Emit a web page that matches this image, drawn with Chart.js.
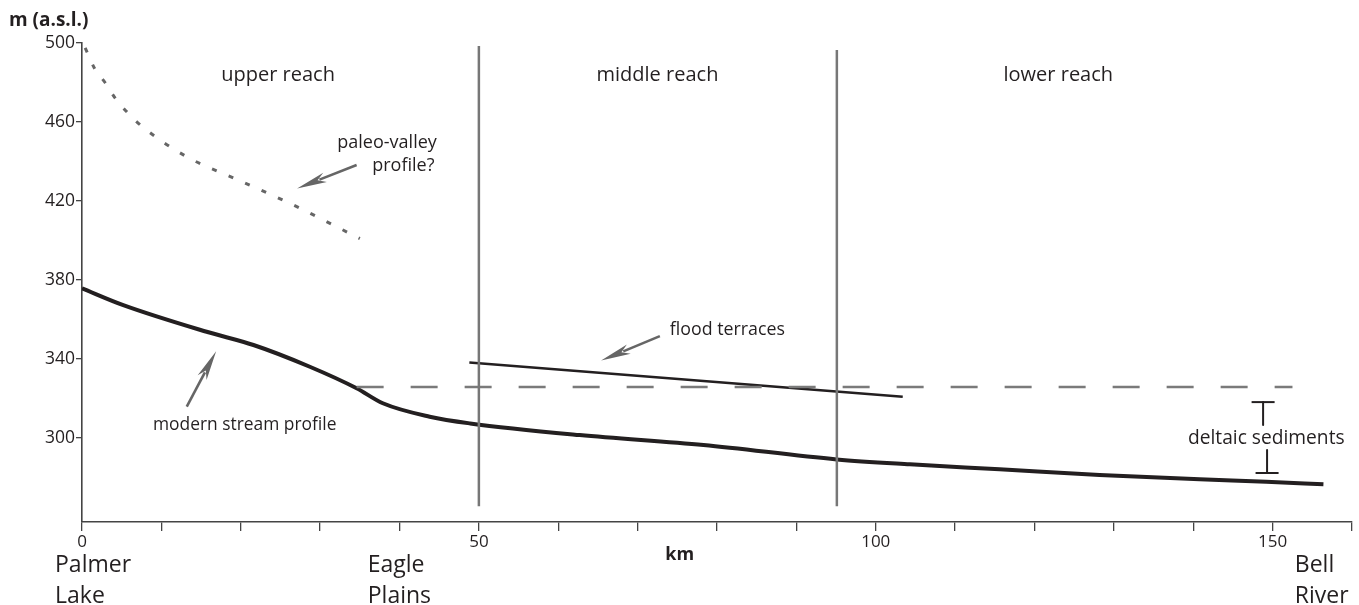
<!DOCTYPE html>
<html><head><meta charset="utf-8">
<script src="https://cdn.jsdelivr.net/npm/chart.js@4.4.1/dist/chart.umd.min.js"></script>
<style>html,body{margin:0;padding:0;background:#fff;overflow:hidden}</style>
</head><body>
<canvas id="c" width="1359" height="605" style="width:1359px;height:605px;display:block"></canvas>
<script>
// ---- data (km, m a.s.l.) ----
const profileKm   = [0, 5.2, 15.7, 21.6, 28.7, 34.6, 37.9, 43.8, 48.9, 62.7, 78.3, 95.1, 104.3, 115.6, 128.2, 140.8, 149.2, 156.4];
const profileElev = [375.8, 367.3, 353.8, 347.1, 336.1, 325.2, 317.6, 310.8, 307.4, 301.5, 296.5, 289.2, 286.7, 284.2, 281.3, 279.1, 277.9, 276.6];
const paleoKm   = [0.4, 1.6, 2.9, 4.2, 5.8, 7.5, 13.2, 19.7, 26.2, 35];
const paleoElev = [497.5, 487, 480, 472, 464.5, 458, 442.4, 430.6, 418.8, 401];
const terraceKm   = [48.8, 103.4];
const terraceElev = [338.3, 320.9];
const deltaTopKm  = [34.6, 152.5];
const deltaTopElev = [325.8, 325.8];
const reachBoundKm = [50, 95.1];
const reachBoundTop = [498.5, 496.5];
const reachBoundBottom = [265.5, 265.5];
const xTicks = [0,10,20,30,40,50,60,70,80,90,100,110,120,130,140,150,160];
const xTickLabels = ['0','','','','','50','','','','','100','','','','','150',''];
const yTicks = [300, 340, 380, 420, 460, 500];
const yTickLabels = ['300','340','380','420','460','500'];
const reachNames = ['upper reach', 'middle reach', 'lower reach'];
const reachLabelKm = [24.7, 72.5, 123.0];
const reachLabelElev = 483.5;
const placeNames = [['Palmer','Lake'], ['Eagle','Plains'], ['Bell','River']];
const placeLeftKm = [-3.4, 36.0, 152.8];
// annotations: [tailKm, tailElev, headKm, headElev]
const arrows = [[13.2, 315.9, 16.9, 344.0], [72.8, 351.6, 65.4, 339.2], [34.6, 438.2, 27.1, 426.4]];
const bracketKm = [148.8, 149.3];
const bracketTop = [318.2, 306.6];
const bracketBottom = [293.9, 282.3];

const pts = (xs, ys) => xs.map((x, i) => ({x, y: ys[i]}));
const TXT = '#231f20';
const FONT = '"Open Sans", "Noto Sans", sans-serif';

const datasets = [];
reachBoundKm.forEach((k, i) => datasets.push({
  data: [{x: k, y: reachBoundBottom[i]}, {x: k, y: reachBoundTop[i]}],
  borderColor: '#777', borderWidth: 2.5, pointRadius: 0
}));
datasets.push({ data: pts(deltaTopKm, deltaTopElev), borderColor: '#7a7a7a', borderWidth: 2.5, borderDash: [27, 27], pointRadius: 0, borderCapStyle: 'butt' });
datasets.push({ data: pts(paleoKm, paleoElev), borderColor: '#666', borderWidth: 3, borderDash: [5, 13], pointRadius: 0, tension: 0.4, cubicInterpolationMode: 'monotone' });
datasets.push({ data: pts(terraceKm, terraceElev), borderColor: TXT, borderWidth: 2.5, pointRadius: 0 });
datasets.push({ data: pts(profileKm, profileElev), borderColor: TXT, borderWidth: 4, pointRadius: 0, cubicInterpolationMode: 'monotone' });
// bracket stems + caps
const capHalf = 1.45;
datasets.push({ data: [{x: bracketKm[0]-capHalf, y: bracketTop[0]}, {x: bracketKm[0]+capHalf, y: bracketTop[0]}], borderColor: TXT, borderWidth: 2, pointRadius: 0 });
datasets.push({ data: [{x: bracketKm[0], y: bracketTop[0]}, {x: bracketKm[0], y: bracketTop[1]}], borderColor: TXT, borderWidth: 2, pointRadius: 0 });
datasets.push({ data: [{x: bracketKm[1]-capHalf, y: bracketBottom[1]}, {x: bracketKm[1]+capHalf, y: bracketBottom[1]}], borderColor: TXT, borderWidth: 2, pointRadius: 0 });
datasets.push({ data: [{x: bracketKm[1], y: bracketBottom[0]}, {x: bracketKm[1], y: bracketBottom[1]}], borderColor: TXT, borderWidth: 2, pointRadius: 0 });

const annot = {
  id: 'annot',
  afterDatasetsDraw(chart) {
    const {ctx, scales: {x, y}, chartArea} = chart;
    ctx.save();
    // arrows
    arrows.forEach(a => {
      const x1 = x.getPixelForValue(a[0]), y1 = y.getPixelForValue(a[1]);
      const x2 = x.getPixelForValue(a[2]), y2 = y.getPixelForValue(a[3]);
      const ang = Math.atan2(y2 - y1, x2 - x1);
      const L = 30, W = 5;
      const bx = x2 - Math.cos(ang) * L, by = y2 - Math.sin(ang) * L;
      ctx.strokeStyle = '#666'; ctx.fillStyle = '#666'; ctx.lineWidth = 2.6;
      ctx.beginPath(); ctx.moveTo(x1, y1); ctx.lineTo(bx + Math.cos(ang)*6, by + Math.sin(ang)*6); ctx.stroke();
      ctx.beginPath();
      ctx.moveTo(x2, y2);
      ctx.lineTo(bx + Math.sin(ang) * W, by - Math.cos(ang) * W);
      ctx.lineTo(bx + Math.cos(ang) * 8, by + Math.sin(ang) * 8);
      ctx.lineTo(bx - Math.sin(ang) * W, by + Math.cos(ang) * W);
      ctx.closePath(); ctx.fill();
    });
    ctx.fillStyle = TXT;
    ctx.textBaseline = 'middle';
    // reach names
    ctx.font = '20px ' + FONT; ctx.textAlign = 'center';
    reachNames.forEach((n, i) => ctx.fillText(n, x.getPixelForValue(reachLabelKm[i]), y.getPixelForValue(reachLabelElev)));
    // annotation texts
    ctx.font = '18px ' + FONT;
    ctx.textAlign = 'right';
    ctx.fillText('paleo-valley', x.getPixelForValue(44.7), y.getPixelForValue(449.2));
    ctx.fillText('profile?', x.getPixelForValue(44.4), y.getPixelForValue(438.0));
    ctx.textAlign = 'center';
    ctx.font = '17.8px ' + FONT;
    ctx.fillText('flood terraces', x.getPixelForValue(81.3), y.getPixelForValue(354.7));
    ctx.font = '17.4px ' + FONT;
    ctx.fillText('modern stream profile', x.getPixelForValue(20.5), y.getPixelForValue(306.4));
    ctx.font = '19.2px ' + FONT;
    ctx.fillText('deltaic sediments', x.getPixelForValue(149.2), y.getPixelForValue(300.0));
    // axis titles
    ctx.font = 'bold 19px ' + FONT; ctx.textAlign = 'left';
    ctx.fillText('m (a.s.l.)', chartArea.left - 73, chartArea.top - 22);
    ctx.textAlign = 'center';
    ctx.font = 'bold 18px ' + FONT;
    ctx.fillText('km', x.getPixelForValue(75.3), chartArea.bottom + 33);
    // place names
    ctx.font = '23px ' + FONT; ctx.textAlign = 'left'; ctx.textBaseline = 'alphabetic';
    placeNames.forEach((p, i) => {
      const px = x.getPixelForValue(placeLeftKm[i]);
      ctx.fillText(p[0], px, chartArea.bottom + 50);
      ctx.fillText(p[1], px, chartArea.bottom + 81);
    });
    ctx.restore();
  }
};

new Chart(document.getElementById('c'), {
  type: 'line',
  data: { datasets },
  plugins: [annot],
  options: {
    responsive: false, animation: false, devicePixelRatio: 1,
    layout: { padding: { top: 43, right: 7, left: 0, bottom: 0 } },
    plugins: { legend: { display: false }, tooltip: { enabled: false } },
    elements: { line: { borderCapStyle: 'butt', borderJoinStyle: 'round' } },
    scales: {
      x: {
        type: 'linear', min: 0, max: 160,
        afterFit(s) { s.height = 83; },
        afterBuildTicks(s) { s.ticks = xTicks.map(v => ({value: v})); },
        ticks: { autoSkip: false, maxRotation: 0, padding: 1, color: TXT, font: { family: FONT, size: 17 },
          callback: (v) => xTickLabels[xTicks.indexOf(v)] ?? '' },
        grid: { drawOnChartArea: false, drawTicks: true, tickLength: 9, color: '#444', lineWidth: 1.3 },
        border: { display: true, color: '#444', width: 1.6 }
      },
      y: {
        type: 'linear', min: 257.5, max: 500,
        afterFit(s) { s.width = 82; },
        afterBuildTicks(s) { s.ticks = yTicks.map(v => ({value: v})); },
        ticks: { autoSkip: false, padding: 1, color: TXT, font: { family: FONT, size: 17.5 },
          callback: (v) => yTickLabels[yTicks.indexOf(v)] ?? '' },
        grid: { drawOnChartArea: false, drawTicks: true, tickLength: 6, color: '#444', lineWidth: 1.3 },
        border: { display: true, color: '#444', width: 1.6 }
      }
    }
  }
});
</script>
</body></html>
